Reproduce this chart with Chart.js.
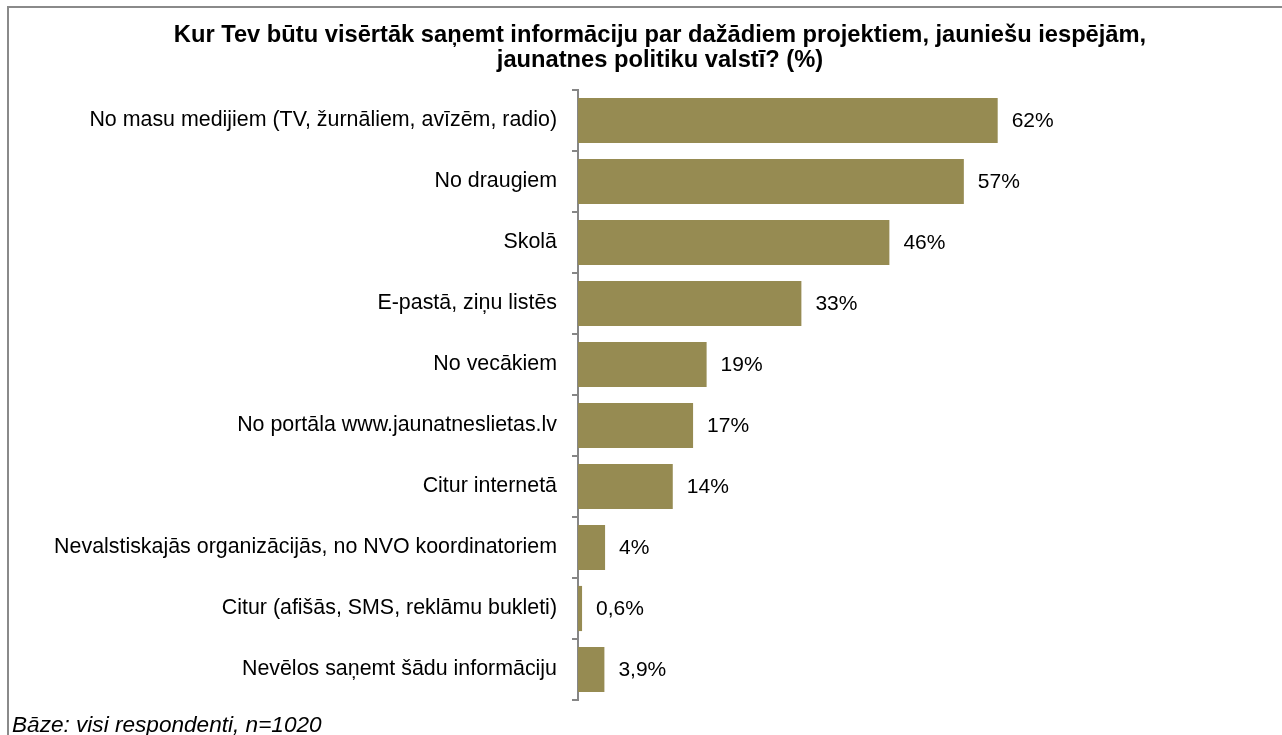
<!DOCTYPE html>
<html>
<head>
<meta charset="utf-8">
<script src="https://cdn.jsdelivr.net/npm/chart.js@4/dist/chart.umd.min.js"></script>
<style>
  html, body { margin: 0; padding: 0; background: #fff; }
  #wrap { position: relative; width: 1282px; height: 735px; }
  #frame {
    position: absolute; left: 7px; top: 6px; right: 0; bottom: 0;
    border-top: 2px solid #8a8a8a; border-left: 2px solid #8a8a8a;
    pointer-events: none;
  }
</style>
</head>
<body>
<div id="wrap">
  <canvas id="barChart" width="1282" height="735"></canvas>
  <div id="frame"></div>
</div>
<script>
const titleLines = [
  "Kur Tev būtu visērtāk saņemt informāciju par dažādiem projektiem, jauniešu iespējām,",
  "jaunatnes politiku valstī? (%)",
];
const categories = [
  "No masu medijiem (TV, žurnāliem, avīzēm, radio)",
  "No draugiem",
  "Skolā",
  "E-pastā, ziņu listēs",
  "No vecākiem",
  "No portāla www.jaunatneslietas.lv",
  "Citur internetā",
  "Nevalstiskajās organizācijās, no NVO koordinatoriem",
  "Citur (afišās, SMS, reklāmu bukleti)",
  "Nevēlos saņemt šādu informāciju",
];
const values = [62, 57, 46, 33, 19, 17, 14, 4, 0.6, 3.9];
const footnote = "Bāze: visi respondenti, n=1020";

const FONT = "'Liberation Sans', Arial, sans-serif";

function fmtPct(v) {
  return String(v).replace(".", ",") + "%";
}

// value labels at the end of every bar + footnote
const barLabels = {
  id: "barLabels",
  afterDatasetsDraw(chart) {
    const ctx = chart.ctx;
    const meta = chart.getDatasetMeta(0);
    ctx.save();
    ctx.font = "21px " + FONT;
    ctx.fillStyle = "#000";
    ctx.textAlign = "left";
    ctx.textBaseline = "middle";
    meta.data.forEach((bar, i) => {
      ctx.fillText(fmtPct(values[i]), bar.x + 14, bar.y + 1);
    });
    ctx.font = "italic 22.6px " + FONT;
    ctx.textBaseline = "alphabetic";
    ctx.fillText(footnote, 12, 732);
    ctx.restore();
  },
};

const ctx = document.getElementById("barChart").getContext("2d");
new Chart(ctx, {
  type: "bar",
  data: {
    labels: categories,
    datasets: [
      {
        data: values,
        backgroundColor: "#968b52",
        borderWidth: 0,
        categoryPercentage: 1,
        barPercentage: 0.74,
      },
    ],
  },
  options: {
    indexAxis: "y",
    responsive: false,
    animation: false,
    layout: { padding: { left: 38, right: 0, top: 0, bottom: 35 } },
    plugins: {
      legend: { display: false },
      tooltip: { enabled: false },
      title: {
        display: true,
        text: titleLines,
        color: "#000",
        font: { family: FONT, size: 23.7, weight: "bold", lineHeight: 1.055 },
        padding: { top: 22.5, bottom: 17.5 },
      },
    },
    scales: {
      x: { display: false, min: 0, max: 104 },
      y: {
        afterFit(scale) {
          scale.width = 540;
        },
        grid: {
          offset: true,
          drawOnChartArea: false,
          drawTicks: true,
          tickLength: 6,
          color: "#868686",
          lineWidth: 2,
        },
        border: { display: true, color: "#868686", width: 2 },
        ticks: {
          color: "#000",
          padding: 15,
          font: { family: FONT, size: 21.4 },
        },
      },
    },
  },
  plugins: [barLabels],
});
</script>
</body>
</html>
